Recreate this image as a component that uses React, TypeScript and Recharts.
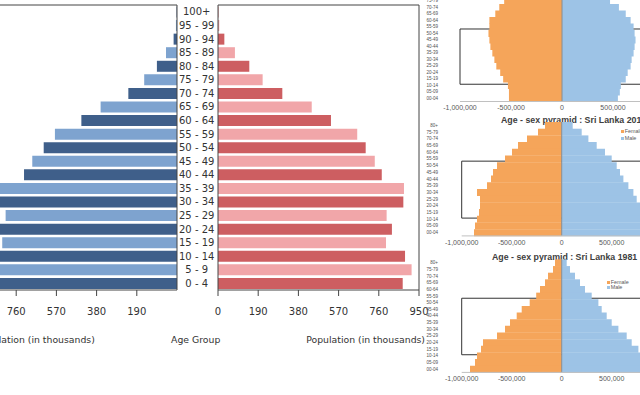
import React from "react";
import { BarChart, Bar, XAxis, YAxis, Cell, ReferenceArea, ReferenceLine, Legend } from "recharts";

// main pyramid, population in thousands, top row first
const ageGroups = [
  "100+", "95 - 99", "90 - 94", "85 - 89", "80 - 84", "75 - 79", "70 - 74",
  "65 - 69", "60 - 64", "55 - 59", "50 - 54", "45 - 49", "40 - 44", "35 - 39",
  "30 - 34", "25 - 29", "20 - 24", "15 - 19", "10 - 14", "5 - 9", "0 - 4",
];
const maleK = [2, 5, 16, 52, 95, 155, 230, 361, 452, 577, 630, 684, 723, 880, 865, 810, 845, 826, 895, 930, 890];
const femaleK = [2, 6, 30, 80, 148, 211, 304, 443, 534, 658, 698, 741, 774, 879, 876, 797, 822, 794, 884, 915, 873];
const popTicks = [0, 190, 380, 570, 760, 950];

// Sri Lanka pyramids, top row first
const slAgeGroups = [
  "80+", "75-79", "70-74", "65-69", "60-64", "55-59", "50-54", "45-49", "40-44",
  "35-39", "30-34", "25-29", "20-24", "15-19", "10-14", "05-09", "00-04",
];
const femaleTop = [480000, 567000, 615000, 654000, 712000, 712000, 721000, 712000, 702000, 683000, 663000, 644000, 606000, 577000, 530000, 520000, 520000];
const maleTop = [330000, 471000, 558000, 625000, 673000, 702000, 712000, 721000, 712000, 702000, 683000, 673000, 644000, 625000, 577000, 567000, 548000];
const female2012 = [167000, 237000, 347000, 437000, 497000, 567000, 647000, 687000, 707000, 747000, 847000, 817000, 817000, 827000, 847000, 867000, 877000];
const male2012 = [110000, 200000, 267000, 350000, 433000, 500000, 550000, 583000, 617000, 667000, 717000, 750000, 800000, 830000, 850000, 870000, 880000];
const female1981 = [67000, 87000, 137000, 167000, 217000, 255000, 320000, 400000, 450000, 517000, 567000, 647000, 787000, 807000, 847000, 867000, 917000];
const male1981 = [50000, 83000, 133000, 183000, 233000, 300000, 367000, 400000, 450000, 500000, 567000, 650000, 700000, 767000, 830000, 860000, 900000];
const slTicks = [-1000000, -500000, 0, 500000, 1000000];
// highlighted band, middle of 55-59 down to middle of 15-19 (row units from the top)
const boxRows = [5.5, 13.5];

const mainFont = "'DejaVu Sans', sans-serif";
const slFont = "'Liberation Sans', Arial, sans-serif";
const spine = "#444";
const maleFill = ["#3f5f8a", "#7ea3cf"];
const femaleFill = ["#cd5e61", "#f1a6a9"];
const orange = "#f5a55a";
const blue = "#9dc3e6";

const mainRows = ageGroups.map((age, i) => ({ age, male: maleK[i], female: femaleK[i] }));
const tickStyle = { fontSize: 10, fill: "#333", fontFamily: mainFont };
const fmtPop = (v: number) => v.toLocaleString("en-US");

const FEMALE_LEFT = 150;

const title = (x: number, text: string, anchor: "start" | "middle" | "end") => () => (
  <text x={x} y={343.4} textAnchor={anchor} fontSize={9.3} fill="#333" fontFamily={mainFont}>
    {text}
  </text>
);

const AgeTick = (props: any) => (
  <text x={196.7 - FEMALE_LEFT} y={props.y} dy="0.36em" textAnchor="middle" fontSize={10} fill="#333" fontFamily={mainFont}>
    {props.payload.value}
  </text>
);

function MainPyramid() {
  return (
    <>
      <div style={{ position: "absolute", left: -25, top: 0 }}>
        <BarChart width={203} height={360} data={mainRows} layout="vertical" barCategoryGap="11%"
          margin={{ top: 4, right: 0, bottom: 0, left: 0 }}>
          <XAxis type="number" domain={[0, 950]} ticks={popTicks} reversed stroke={spine} tick={tickStyle}
            tickSize={6} tickMargin={12} height={70}
            label={{ content: title(1, "Population (in thousands)", "start") }} />
          <XAxis xAxisId="top" orientation="top" type="number" domain={[0, 950]} reversed tick={false}
            tickLine={false} height={1} stroke={spine} />
          <YAxis type="category" dataKey="age" orientation="right" width={1} tick={false} tickLine={false} stroke={spine} />
          <YAxis yAxisId="left" type="category" dataKey="age" width={1} tick={false} tickLine={false} stroke={spine} />
          <Bar dataKey="male" isAnimationActive={false}>
            {mainRows.map((r, i) => <Cell key={r.age} fill={maleFill[i % 2]} />)}
          </Bar>
        </BarChart>
      </div>
      <div style={{ position: "absolute", left: FEMALE_LEFT, top: 0 }}>
        <BarChart width={285} height={360} data={mainRows} layout="vertical" barCategoryGap="11%"
          margin={{ top: 4, right: 15, bottom: 0, left: 27 }}>
          <XAxis type="number" domain={[0, 950]} ticks={popTicks} stroke={spine} tick={tickStyle}
            tickSize={6} tickMargin={12} height={70}
            label={{ content: title(425 - FEMALE_LEFT, "Population (in thousands)", "end") }} />
          <XAxis xAxisId="top" orientation="top" type="number" domain={[0, 950]} tick={false}
            tickLine={false} height={1} stroke={spine} />
          <YAxis type="category" dataKey="age" width={41} tickLine={false} tick={AgeTick} interval={0} stroke={spine}
            label={{ content: title(195.7 - FEMALE_LEFT, "Age Group", "middle") }} />
          <YAxis yAxisId="right" type="category" dataKey="age" orientation="right" width={1} tick={false}
            tickLine={false} stroke={spine} />
          <Bar dataKey="female" isAnimationActive={false}>
            {mainRows.map((r, i) => <Cell key={r.age} fill={femaleFill[i % 2]} />)}
          </Bar>
        </BarChart>
      </div>
    </>
  );
}

function SlLegend({ payload, gap }: any) {
  return (
    <div style={{ fontFamily: slFont, fontSize: 5.4, color: "#595959", lineHeight: `${gap}px` }}>
      {(payload || []).map((p: any) => (
        <div key={p.value} style={{ display: "flex", alignItems: "center", whiteSpace: "nowrap" }}>
          <span style={{ display: "inline-block", width: 3, height: 3, background: p.color, marginRight: 1 }} />
          {p.value}
        </div>
      ))}
    </div>
  );
}

interface SlProps {
  female: number[];
  male: number[];
  top: number;
  marginTop: number;
  yAxisWidth: number;
  rightMargin: number;
  xAxisHeight: number;
  legend?: { top: number; left: number; gap: number };
}

function SlPyramid({ female, male, top, marginTop, yAxisWidth, rightMargin, xAxisHeight, legend }: SlProps) {
  const rows = slAgeGroups.map((age, i) => ({ age, female: -female[i], male: male[i] }));
  return (
    <div style={{ position: "absolute", left: 420, top }}>
      <BarChart width={260} height={135} data={rows} layout="vertical" stackOffset="sign" barCategoryGap={0}
        margin={{ top: marginTop, right: rightMargin, bottom: 0, left: 0 }}>
        <XAxis type="number" domain={[-1000000, 1000000]} ticks={slTicks} tickFormatter={fmtPop}
          axisLine={{ stroke: "#c0c0c0" }} tickLine={false} tickSize={0} tickMargin={4} interval={0}
          tick={{ fontSize: 7, fill: "#595959", fontFamily: slFont }} height={xAxisHeight} />
        <YAxis type="category" dataKey="age" width={yAxisWidth} axisLine={false} tickLine={false} tickSize={0}
          tickMargin={yAxisWidth - 18} interval={0} tick={{ fontSize: 4.5, fill: "#505050", fontFamily: slFont }} />
        <YAxis yAxisId="rows" type="number" domain={[0, slAgeGroups.length]} allowDataOverflow hide />
        <Bar dataKey="female" name="Female" stackId="sex" fill={orange} isAnimationActive={false} />
        <Bar dataKey="male" name="Male" stackId="sex" fill={blue} isAnimationActive={false} />
        <ReferenceLine x={0} stroke="#8c8c8c" />
        <ReferenceArea yAxisId="rows" x1={-1000000} x2={1000000} y1={boxRows[0]} y2={boxRows[1]}
          fill="none" fillOpacity={0} stroke="#333" strokeWidth={1} />
        {legend && (
          <Legend layout="horizontal" verticalAlign="middle" align="center"
            wrapperStyle={{ top: legend.top, left: legend.left, width: 40, height: 16 }}
            content={(p: any) => <SlLegend payload={p.payload} gap={legend.gap} />} />
        )}
      </BarChart>
    </div>
  );
}

const slTitle: React.CSSProperties = {
  position: "absolute",
  fontFamily: slFont,
  fontWeight: "bold",
  fontSize: 8.8,
  lineHeight: "10px",
  color: "#404040",
  whiteSpace: "nowrap",
};

export default function App() {
  return (
    <div style={{ position: "absolute", left: 0, top: 0, width: 640, height: 395, overflow: "hidden", background: "#fff" }}>
      <MainPyramid />
      <SlPyramid female={femaleTop} male={maleTop} top={-20} marginTop={11} yAxisWidth={40} rightMargin={16}
        xAxisHeight={13.5} />
      <div style={{ ...slTitle, left: 501, top: 115 }}>Age - sex pyramid : Sri Lanka 2012</div>
      <SlPyramid female={female2012} male={male2012} top={112} marginTop={10} yAxisWidth={41.7} rightMargin={18.3}
        xAxisHeight={11.1} legend={{ top: 15.5, left: 200.7, gap: 7 }} />
      <div style={{ ...slTitle, left: 492, top: 251.7 }}>Age - sex pyramid : Sri Lanka 1981</div>
      <SlPyramid female={female1981} male={male1981} top={250} marginTop={9.4} yAxisWidth={41.7} rightMargin={18.3}
        xAxisHeight={12.6} legend={{ top: 29.5, left: 186.7, gap: 5.6 }} />
    </div>
  );
}
